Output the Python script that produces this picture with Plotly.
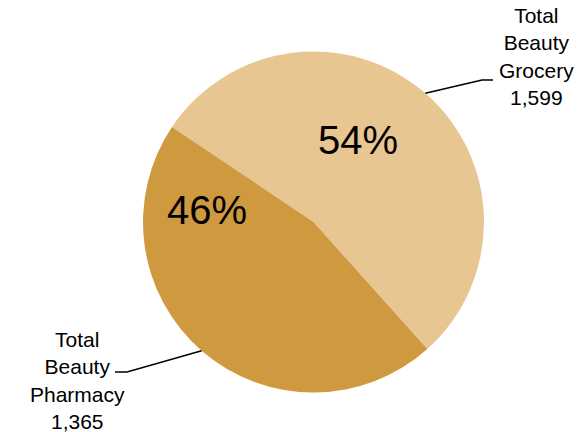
import math
import plotly.graph_objects as go

# Data
categories = ["Total Beauty Grocery", "Total Beauty Pharmacy"]
values = [1599, 1365]
colors = ["#E8C691", "#CF9A3F"]

# Canvas and pie geometry (pixels)
W, H = 585, 432
CX, CY, R = 313.5, 222.0, 170.5
ROTATION = -56.1  # first slice starts this many degrees before 12 o'clock

# Placement of the text blocks (pixels)
pct_pos = [(358, 140), (207, 210)]
label_pos = [(536, 56), (77, 380)]
elbows = [[(482, 80), (493, 80)], [(127, 372), (115, 372)]]

FONT = "Liberation Sans, Arial, sans-serif"


def px(x):
    return x / W


def py(y):
    return 1 - y / H


total = sum(values)
pcts = [round(100 * v / total) for v in values]

fig = go.Figure(
    go.Pie(
        labels=categories,
        values=values,
        sort=False,
        direction="clockwise",
        rotation=ROTATION,
        marker=dict(colors=colors, line=dict(width=0)),
        textinfo="none",
        hoverinfo="label+value+percent",
        domain=dict(x=[px(CX - R), px(CX + R)], y=[py(CY + R), py(CY - R)]),
        showlegend=False,
    )
)

annotations = []
shapes = []
cum = 0
for i, (name, v) in enumerate(zip(categories, values)):
    # mid angle of the slice, clockwise from 12 o'clock
    mid = math.radians(ROTATION + 360 * (cum + v / 2) / total)
    cum += v
    ex = CX + R * math.sin(mid)
    ey = CY - R * math.cos(mid)

    # percentage inside the slice
    annotations.append(
        dict(
            x=px(pct_pos[i][0]), y=py(pct_pos[i][1]), xref="paper", yref="paper",
            text=f"{pcts[i]}%", showarrow=False, xanchor="center", yanchor="middle",
            font=dict(family=FONT, size=40, color="#000000"),
        )
    )
    # category name and value outside
    annotations.append(
        dict(
            x=px(label_pos[i][0]), y=py(label_pos[i][1]), xref="paper", yref="paper",
            text=name.replace(" ", "<br>") + f"<br>{v:,}", showarrow=False,
            xanchor="center", yanchor="middle", align="center",
            font=dict(family=FONT, size=21, color="#000000"),
        )
    )
    # leader line from slice edge to the label
    pts = [(ex, ey)] + elbows[i]
    path = "M " + " L ".join(f"{px(x):.5f},{py(y):.5f}" for x, y in pts)
    shapes.append(
        dict(type="path", path=path, xref="paper", yref="paper",
             line=dict(color="#000000", width=1.6))
    )

fig.update_layout(
    width=W,
    height=H,
    margin=dict(l=0, r=0, t=0, b=0),
    paper_bgcolor="white",
    plot_bgcolor="white",
    annotations=annotations,
    shapes=shapes,
)

fig.write_html("out.html")
